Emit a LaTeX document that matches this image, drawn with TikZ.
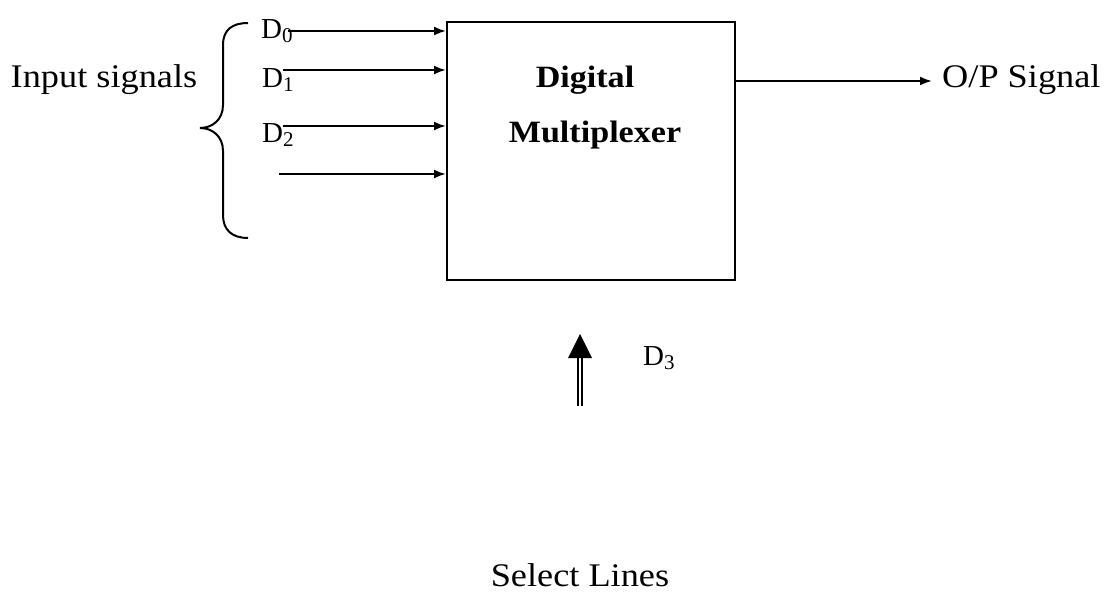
\documentclass[tikz,border=0pt]{standalone}
\usepackage{fontspec}
\setmainfont[FakeStretch=1.1]{Liberation Serif}
\newfontfamily\timesf{Liberation Serif}
\usetikzlibrary{arrows.meta}
\newcommand{\sbs}[1]{{\fontsize{21}{21}\selectfont\raisebox{-4pt}{#1}}}
\begin{document}
\begin{tikzpicture}[x=1pt,y=-1pt,
  lbl/.style={inner sep=0pt,font=\fontsize{33}{33}\selectfont},
  blbl/.style={inner sep=0pt,font=\fontsize{31}{31}\selectfont\bfseries},
  dlbl/.style={inner sep=0pt,anchor=west,font=\timesf\fontsize{29}{29}\selectfont},
  arr/.style={line width=2pt,-{Latex[length=12pt,width=9pt]}},
  wire/.style={line width=2pt}]
\useasboundingbox (0,0) rectangle (1113,593);
\node[draw,line width=2pt,minimum width=288pt,minimum height=258pt,inner sep=0pt] (mux) at (591,151) {};
\node[blbl] (t1) at (585,80) {Digital};
\node[blbl] (t2) at (595,135) {Multiplexer};
\node[lbl] (inp) at (104,80) {Input signals};
\node[dlbl] (d0) at (261,31) {D\sbs{0}};
\node[dlbl] (d1) at (262,80) {D\sbs{1}};
\node[dlbl] (d2) at (262,135) {D\sbs{2}};
\node[dlbl] (d3) at (643,358) {D\sbs{3}};
\node[lbl,anchor=west] (op) at (942,80) {O/P Signal};
\node[lbl,anchor=base] (sel) at (580,586) {Select Lines};
% brace
\draw[wire] (248,23) .. controls (232,23) and (223,30) .. (223,45) -- (223,105)
  .. controls (223,120) and (212,128) .. (200,128)
  .. controls (212,128) and (223,136) .. (223,151) -- (223,215)
  .. controls (223,230) and (232,238) .. (248,238);
% inputs
\coordinate (i0) at (288,31);
\coordinate (i1) at (283,70);
\coordinate (i2) at (283,126);
\coordinate (i3) at (279,174);
\draw[arr] (i0) -- (mux.west |- i0);
\draw[arr] (i1) -- (mux.west |- i1);
\draw[arr] (i2) -- (mux.west |- i2);
\draw[arr] (i3) -- (mux.west |- i3);
% output
\coordinate (o0) at (mux.east |- 0,81);
\draw[arr] (o0) -- (932,81);
% select double arrow
\coordinate (sb) at (580,406);
\coordinate (st) at (580,357);
\draw[line width=1.8pt,double,double distance=2pt] (sb) -- (st);
\fill (568,358) -- (592,358) -- (580,334) -- cycle;
\end{tikzpicture}
\end{document}
